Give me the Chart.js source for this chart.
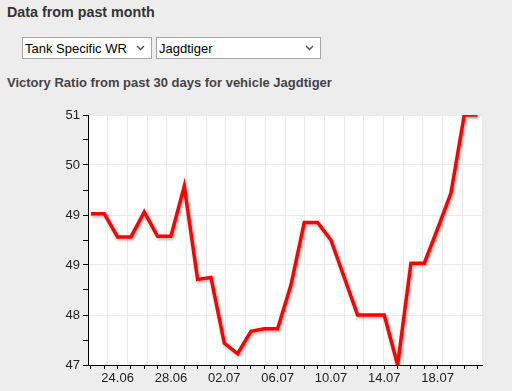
<!DOCTYPE html>
<html lang="en">
<head>
<meta charset="UTF-8" />
<title>Victory Ratio - Jagdtiger</title>
<script src="https://cdn.jsdelivr.net/npm/chart.js"></script>
<style>
  body {
    margin: 0;
    width: 512px;
    height: 391px;
    overflow: hidden;
    background: #ededed;
    font-family: 'Liberation Sans', Arial, sans-serif;
    color: #333;
    position: relative;
  }
  .head {
    position: absolute;
    left: 7px;
    top: 5px;
    font-size: 14.3px;
    line-height: 14.3px;
    font-weight: bold;
    white-space: nowrap;
  }
  .sub {
    position: absolute;
    left: 7px;
    top: 76px;
    font-size: 13px;
    line-height: 13px;
    font-weight: bold;
    color: #444;
    white-space: nowrap;
  }
  select {
    position: absolute;
    top: 37px;
    height: 22px;
    box-sizing: border-box;
    -webkit-appearance: none;
    appearance: none;
    border: 1px solid #a6a6a6;
    border-radius: 0;
    background: #fff url("data:image/svg+xml,%3Csvg xmlns='http://www.w3.org/2000/svg' width='9' height='6'%3E%3Cpolyline points='1,1 4.5,4.5 8,1' fill='none' stroke='%23555' stroke-width='1.5'/%3E%3C/svg%3E") no-repeat right 6px center;
    font-family: 'Liberation Sans', Arial, sans-serif;
    font-size: 13px;
    color: #000;
    padding: 0 0 0 2px;
    margin: 0;
  }
  #sel-type { left: 22px; width: 130px; }
  #sel-tank { left: 156px; width: 165px; }
  canvas {
    position: absolute;
    left: 0;
    top: 100px;
  }
</style>
</head>
<body>

<div class="head">Data from past month</div>
<select id="sel-type"><option>Tank Specific WR</option></select>
<select id="sel-tank"><option>Jagdtiger</option></select>
<div class="sub">Victory Ratio from past 30 days for vehicle Jagdtiger</div>

<canvas id="chart-wr" width="512" height="291"></canvas>

<script>
  // dates (22.06 .. 21.07)
  const days = ['22.06', '23.06', '24.06', '25.06', '26.06', '27.06', '28.06', '29.06', '30.06', '01.07',
                '02.07', '03.07', '04.07', '05.07', '06.07', '07.07', '08.07', '09.07', '10.07', '11.07',
                '12.07', '13.07', '14.07', '15.07', '16.07', '17.07', '18.07', '19.07', '20.07', '21.07'];

  // victory ratio, %
  const winRatio = [49.42, 49.42, 49.05, 49.05, 49.45, 49.06, 49.06, 49.86, 48.37, 48.40,
                    47.35, 47.18, 47.54, 47.58, 47.58, 48.28, 49.28, 49.28, 49.00, 48.40,
                    47.80, 47.80, 47.80, 47.00, 48.63, 48.63, 49.18, 49.75, 51.00, 51.00];

  const yMin = 47, yMax = 51;

  // white plot background
  const plotBg = {
    id: 'plotBg',
    beforeDraw(chart) {
      const a = chart.chartArea, c = chart.ctx;
      c.save();
      c.fillStyle = '#fff';
      c.fillRect(a.left, a.top, a.right - a.left, a.bottom - a.top);
      c.restore();
    }
  };

  // soft shadow under the line
  const lineShadow = {
    id: 'lineShadow',
    beforeDatasetDraw(chart) {
      const c = chart.ctx;
      c.save();
      c.shadowColor = 'rgba(0,0,0,0.28)';
      c.shadowBlur = 3;
      c.shadowOffsetX = 1;
      c.shadowOffsetY = 2;
    },
    afterDatasetDraw(chart) {
      chart.ctx.restore();
    }
  };

  const ctx = document.getElementById('chart-wr').getContext('2d');
  new Chart(ctx, {
    type: 'line',
    data: {
      datasets: [{
        data: winRatio.map((v, i) => ({ x: i, y: v })),
        borderColor: '#ff0000',
        borderWidth: 3.5,
        borderJoinStyle: 'miter',
        pointRadius: 0,
        tension: 0,
        fill: false
      }]
    },
    options: {
      responsive: false,
      animation: false,
      devicePixelRatio: 1,
      layout: { padding: { top: 15, right: 30, left: 0, bottom: 0 } },
      plugins: { legend: { display: false }, tooltip: { enabled: false } },
      scales: {
        x: {
          type: 'linear',
          position: 'bottom',
          min: -0.22,
          max: 29.33,
          afterFit: (s) => { s.height = 26; },
          border: { color: '#000', width: 1 },
          grid: { drawOnChartArea: false, drawTicks: true, tickLength: 4, tickColor: '#000' },
          ticks: {
            stepSize: 1,
            includeBounds: false,
            autoSkip: false,
            maxRotation: 0,
            padding: 2,
            color: '#222',
            font: { family: "'Liberation Sans', Arial, sans-serif", size: 13 },
            callback: (v) => (v % 4 === 2 ? days[v] : '')
          }
        },
        x2: {
          type: 'linear',
          position: 'top',
          min: 0,
          max: 20,
          afterFit: (s) => { s.height = 0; },
          border: { display: false },
          grid: { color: '#ebebeb', drawTicks: false },
          ticks: { display: false, stepSize: 1 }
        },
        y: {
          min: yMin,
          max: yMax,
          afterFit: (s) => { s.width = 88; },
          border: { color: '#000', width: 1 },
          grid: {
            color: (c) => (c.index % 2 === 0 ? '#ebebeb' : 'rgba(0,0,0,0)'),
            tickColor: '#000',
            tickLength: 5
          },
          ticks: {
            stepSize: 0.4,
            padding: 3,
            color: '#222',
            font: { family: "'Liberation Sans', Arial, sans-serif", size: 13 },
            callback: (v, i) => (i % 2 === 0 ? String(Math.round(v)) : '')
          }
        }
      }
    },
    plugins: [plotBg, lineShadow]
  });
</script>

</body>
</html>
